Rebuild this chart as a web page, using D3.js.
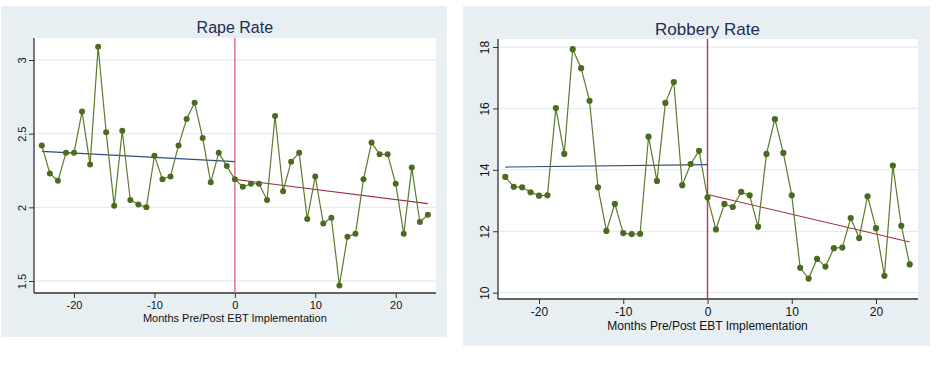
<!DOCTYPE html>
<html>
<head>
<meta charset="utf-8">
<script src="https://cdn.jsdelivr.net/npm/d3@7"></script>
<style>
  body { margin: 0; background: #fff; }
  svg { display: block; font-family: "Liberation Sans", Arial, sans-serif; }
</style>
</head>
<body>
<svg id="chart" width="944" height="367"></svg>
<script>
const months = d3.range(-24, 25);

const rapeRate = [
  2.42, 2.23, 2.18, 2.37, 2.37, 2.65, 2.29, 3.09, 2.51, 2.01, 2.52, 2.05, 2.02, 2.00, 2.35, 2.19, 2.21, 2.42, 2.60, 2.71, 2.47, 2.17, 2.37, 2.28,
  2.19,
  2.14, 2.16, 2.16, 2.05, 2.62, 2.11, 2.31, 2.37, 1.92, 2.21, 1.89, 1.93, 1.47, 1.80, 1.82, 2.19, 2.44, 2.36, 2.36, 2.16, 1.82, 2.27, 1.90, 1.95
];
const robberyRate = [
  13.77, 13.45, 13.43, 13.27, 13.16, 13.17, 16.01, 14.52, 17.93, 17.31, 16.25, 13.43, 12.01, 12.89, 11.94, 11.91, 11.92, 15.08, 13.64, 16.18, 16.86, 13.50, 14.19, 14.62,
  13.10,
  12.06, 12.89, 12.79, 13.28, 13.17, 12.15, 14.52, 15.65, 14.55, 13.17, 10.81, 10.46, 11.10, 10.85, 11.45, 11.47, 12.43, 11.78, 13.14, 12.10, 10.55, 14.14, 12.18, 10.92
];

// fitted line end points [month, value]
const rapePreFit = [[-24, 2.38], [0, 2.31]];
const rapePostFit = [[0, 2.19], [24, 2.025]];
const robberyPreFit = [[-24, 14.09], [0, 14.17]];
const robberyPostFit = [[0, 13.20], [24, 11.65]];

const rapeTicks = [1.5, 2, 2.5, 3];
const robberyTicks = [10, 12, 14, 16, 18];
const monthTicks = [-20, -10, 0, 10, 20];
const xTitle = 'Months Pre/Post EBT Implementation';

const svg = d3.select('#chart');

function drawPanel(o) {
  const g = svg.append('g');
  g.append('rect')
    .attr('x', o.bx).attr('y', o.by)
    .attr('width', o.bw).attr('height', o.bh)
    .attr('fill', '#e8eff2');
  g.append('rect')
    .attr('x', o.px).attr('y', o.py)
    .attr('width', o.pw).attr('height', o.ph)
    .attr('fill', '#fff');

  const x = d3.scaleLinear().domain(o.xDomain).range(o.xRange);
  const y = d3.scaleLinear().domain(o.yDomain).range(o.yRange);

  // grid
  g.append('g').selectAll('line')
    .data(o.yTicks)
    .join('line')
      .attr('x1', o.px)
      .attr('x2', o.px + o.pw)
      .attr('y1', d => y(d))
      .attr('y2', d => y(d))
      .attr('stroke', '#e6edf0')
      .attr('stroke-width', 1.3);

  // axes
  const yAxis = d3.axisLeft(y).tickValues(o.yTicks).tickSize(5).tickPadding(3).tickFormat(d => d);
  const yg = g.append('g')
    .attr('transform', `translate(${o.px}, 0)`)
    .call(yAxis);
  yg.select('.domain').attr('d', `M0,${o.py}V${o.py + o.ph}`).attr('stroke', '#333').attr('stroke-width', 1.3);
  yg.selectAll('.tick line').attr('stroke', '#333');
  yg.selectAll('.tick text')
    .attr('font-size', o.fs)
    .attr('fill', '#111')
    .attr('text-anchor', 'middle')
    .attr('x', null).attr('dy', null)
    .attr('transform', `translate(${-o.ylab}, 0) rotate(-90)`)
    .attr('y', 0)
    .attr('dominant-baseline', 'central');

  const xAxis = d3.axisBottom(x).tickValues(monthTicks).tickSize(5).tickPadding(3).tickFormat(d => d);
  const xg = g.append('g')
    .attr('transform', `translate(0, ${o.py + o.ph})`)
    .call(xAxis);
  xg.select('.domain').attr('d', `M${o.px},0H${o.px + o.pw}`).attr('stroke', '#333').attr('stroke-width', 1.3);
  xg.selectAll('.tick line').attr('stroke', '#333');
  xg.selectAll('.tick text').attr('font-size', o.fs).attr('fill', '#111');

  // vertical line at implementation
  g.append('line')
    .attr('x1', x(0)).attr('x2', x(0))
    .attr('y1', o.py).attr('y2', o.py + o.ph)
    .attr('stroke', o.vColor)
    .attr('stroke-width', 1.4);

  // fitted lines
  const fit = d3.line().x(d => x(d[0])).y(d => y(d[1]));
  g.append('path').attr('d', fit(o.preFit))
    .attr('fill', 'none').attr('stroke', '#2c4f7c').attr('stroke-width', 1.1);
  g.append('path').attr('d', fit(o.postFit))
    .attr('fill', 'none').attr('stroke', '#9c2f42').attr('stroke-width', 1.1);

  // series
  const pts = months.map((m, i) => ({ month: m, value: o.values[i] }));
  g.append('path')
    .datum(pts)
    .attr('d', d3.line().x(d => x(d.month)).y(d => y(d.value)))
    .attr('fill', 'none')
    .attr('stroke', '#5c7b2c')
    .attr('stroke-width', 1.2);
  g.append('g').selectAll('circle')
    .data(pts)
    .join('circle')
      .attr('cx', d => x(d.month))
      .attr('cy', d => y(d.value))
      .attr('r', o.r)
      .attr('fill', '#4b6b20');

  // titles
  g.append('text')
    .attr('x', x(0)).attr('y', o.titleY)
    .attr('text-anchor', 'middle')
    .attr('font-size', o.titleFs)
    .attr('fill', '#1e2d52')
    .text(o.title);
  g.append('text')
    .attr('x', x(0)).attr('y', o.xTitleY)
    .attr('text-anchor', 'middle')
    .attr('font-size', o.fs)
    .attr('fill', '#111')
    .text(xTitle);
}

drawPanel({
  title: 'Rape Rate',
  values: rapeRate, preFit: rapePreFit, postFit: rapePostFit,
  yTicks: rapeTicks,
  bx: 1, by: 6, bw: 446, bh: 331,
  px: 34, py: 38, pw: 402, ph: 255,
  xDomain: [-20, 20], xRange: [74, 395.7],
  yDomain: [1.5, 3], yRange: [281, 60],
  fs: 11, titleFs: 16, titleY: 33, xTitleY: 322, ylab: 12, r: 3,
  vColor: '#df6a86'
});

drawPanel({
  title: 'Robbery Rate',
  values: robberyRate, preFit: robberyPreFit, postFit: robberyPostFit,
  yTicks: robberyTicks,
  bx: 463, by: 6, bw: 467, bh: 340,
  px: 498, py: 39, pw: 420, ph: 260,
  xDomain: [-20, 20], xRange: [539, 876],
  yDomain: [10, 18], yRange: [292.7, 47],
  fs: 12, titleFs: 17, titleY: 35, xTitleY: 330, ylab: 13, r: 3.1,
  vColor: '#c9304f'
});
</script>
</body>
</html>
